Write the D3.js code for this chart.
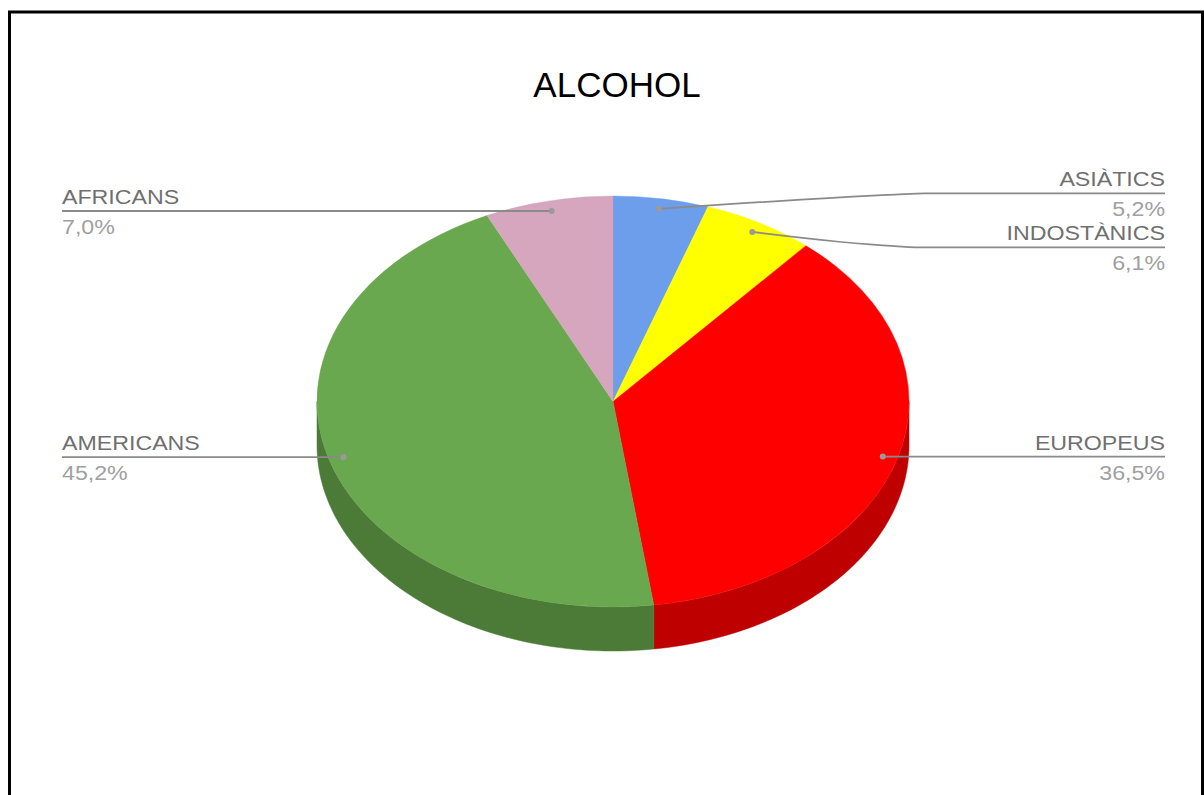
<!DOCTYPE html>
<html>
<head>
<meta charset="utf-8">
<script src="https://cdn.jsdelivr.net/npm/d3@7"></script>
<style>
  html, body { margin: 0; padding: 0; background: #fff; }
  svg { display: block; }
</style>
</head>
<body>
<svg id="chart" width="1204" height="795"></svg>
<script>
// ---- data ----
const title = "ALCOHOL";
const categories = ["ASIÀTICS", "INDOSTÀNICS", "EUROPEUS", "AMERICANS", "AFRICANS"];
const values = [5.2, 6.1, 36.5, 45.2, 7.0];
const topColors = ["#6d9eeb", "#ffff00", "#ff0000", "#6aa84f", "#d5a6bd"];
const sideColors = ["#5277b0", "#bfbf00", "#bf0000", "#4b7b37", "#a07d8e"];

// ---- layout ----
const W = 1204, H = 795;
const cx = 613, cy = 401.5, rx = 296, ry = 205.5, depth = 44;
const svg = d3.select("#chart");

// frame
svg.append("path")
  .attr("d", `M9.5,${H} V12 H1202.5 V${H}`)
  .attr("fill", "none").attr("stroke", "#000").attr("stroke-width", 3);

// title
svg.append("text")
  .attr("x", 617).attr("y", 97)
  .attr("text-anchor", "middle")
  .attr("font-family", "'Liberation Sans', Arial, sans-serif")
  .attr("font-size", 35)
  .attr("fill", "#000")
  .text(title);

const pie = d3.pie().sort(null).value(d => d.v).startAngle(0).endAngle(2 * Math.PI);
const data = categories.map((c, i) => ({ c, v: values[i], i }));
const arcs = pie(data);

const pt = (a, r = 1, dy = 0) => [cx + rx * r * Math.sin(a), cy - ry * r * Math.cos(a) + dy];

// sides (visible front half: angle between PI/2 and 3PI/2)
const gSide = svg.append("g");
arcs.forEach(a => {
  const s = Math.max(a.startAngle, Math.PI / 2);
  const e = Math.min(a.endAngle, 3 * Math.PI / 2);
  if (e <= s) return;
  const n = 60;
  const topPts = d3.range(n + 1).map(k => pt(s + (e - s) * k / n));
  const botPts = topPts.slice().reverse().map(p => [p[0], p[1] + depth]);
  gSide.append("path")
    .attr("d", d3.line()(topPts.concat(botPts)) + "Z")
    .attr("fill", sideColors[a.data.i])
    .attr("stroke", sideColors[a.data.i]).attr("stroke-width", 0.5);
});

// top faces
const arcGen = d3.arc().innerRadius(0).outerRadius(rx);
const gTop = svg.append("g").attr("transform", `translate(${cx},${cy}) scale(1,${ry / rx})`);
gTop.selectAll("path").data(arcs).join("path")
  .attr("d", arcGen)
  .attr("fill", d => topColors[d.data.i])
  .attr("stroke", d => topColors[d.data.i]).attr("stroke-width", 0.5);

// ---- labels ----
const fmt = v => d3.format(".1f")(v).replace(".", ",") + "%";
const labels = arcs.map(a => {
  const mid = (a.startAngle + a.endAngle) / 2;
  const [dx, dy] = pt(mid, 0.95);
  return { a, mid, dx, dy, right: Math.sin(mid) > 0, ly: dy };
});
// resolve collisions per side
const spacing = 54;
[true, false].forEach(side => {
  const group = labels.filter(l => l.right === side).sort((p, q) => p.dy - q.dy);
  // simple cluster relaxation
  for (let iter = 0; iter < 50; iter++) {
    for (let k = 1; k < group.length; k++) {
      const p = group[k - 1], q = group[k];
      const gap = q.ly - p.ly;
      if (gap < spacing) {
        const push = (spacing - gap) / 2;
        p.ly -= push; q.ly += push;
      }
    }
  }
});

const leftX = 62, rightX = 1165, bendR = 915, bendL = 62;
const gLab = svg.append("g");
labels.forEach(l => {
  let pts;
  if (l.right) {
    pts = Math.abs(l.ly - l.dy) < 0.5
      ? [[l.dx, l.dy], [rightX, l.ly]]
      : [[l.dx, l.dy], [bendR - 20, l.ly + (l.dy - l.ly) * 0.08], [bendR + 10, l.ly], [rightX, l.ly]];
  } else {
    pts = [[l.dx, l.dy], [leftX, l.ly]];
  }
  gLab.append("path")
    .attr("d", d3.line().curve(d3.curveMonotoneX)(pts.slice().sort((p, q) => p[0] - q[0])))
    .attr("fill", "none").attr("stroke", "#8a8a8a").attr("stroke-width", 1.8);
  gLab.append("circle")
    .attr("cx", l.dx).attr("cy", l.dy).attr("r", 3)
    .attr("fill", "#9a9a9a");

  const x = l.right ? rightX : leftX;
  const anchor = l.right ? "end" : "start";
  const g1 = gLab.append("g").attr("transform", `translate(${x},${l.ly - 7}) scale(1.16,1)`);
  g1.append("text")
    .attr("text-anchor", anchor)
    .attr("font-family", "'Liberation Sans', Arial, sans-serif")
    .attr("font-size", 20).attr("fill", "#707070")
    .text(l.a.data.c);
  const g2 = gLab.append("g").attr("transform", `translate(${x},${l.ly + 23}) scale(1.16,1)`);
  g2.append("text")
    .attr("text-anchor", anchor)
    .attr("font-family", "'Liberation Sans', Arial, sans-serif")
    .attr("font-size", 20).attr("fill", "#a0a0a0")
    .text(fmt(l.a.data.v));
});
</script>
</body>
</html>
